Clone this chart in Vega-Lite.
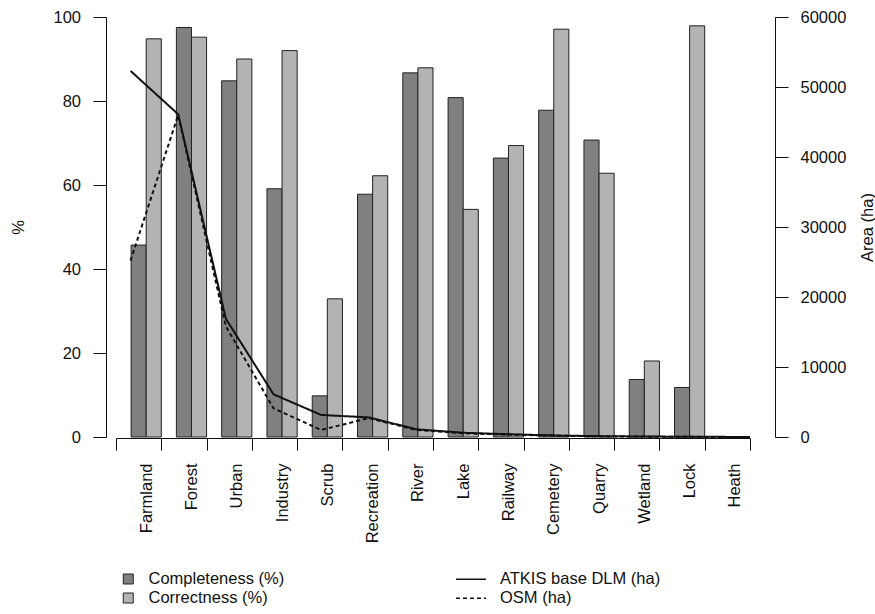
{
  "$schema": "https://vega.github.io/schema/vega-lite/v6.json",
  "width": 634,
  "height": 420,
  "autosize": {"type": "none"},
  "padding": {"left": 116, "top": 17, "right": 125, "bottom": 177},
  "background": "white",
  "config": {
    "font": "Liberation Sans",
    "view": {"stroke": null},
    "axis": {
      "labelFont": "Liberation Sans",
      "titleFont": "Liberation Sans",
      "labelFontSize": 16.5,
      "titleFontSize": 16.5,
      "titleFontWeight": "normal",
      "labelColor": "#111",
      "titleColor": "#111",
      "domainColor": "#111",
      "tickColor": "#111",
      "grid": false,
      "tickSize": 13
    },
    "legend": {
      "labelFont": "Liberation Sans",
      "labelFontSize": 16.5,
      "labelColor": "#111",
      "labelLimit": 400,
      "padding": 0
    }
  },
  "datasets": {
    "bars": [
      {"class": "Farmland", "measure": "Completeness (%)", "value": 45.7},
      {"class": "Farmland", "measure": "Correctness (%)", "value": 94.8},
      {"class": "Forest", "measure": "Completeness (%)", "value": 97.5},
      {"class": "Forest", "measure": "Correctness (%)", "value": 95.2},
      {"class": "Urban", "measure": "Completeness (%)", "value": 84.8},
      {"class": "Urban", "measure": "Correctness (%)", "value": 90.0},
      {"class": "Industry", "measure": "Completeness (%)", "value": 59.1},
      {"class": "Industry", "measure": "Correctness (%)", "value": 92.0},
      {"class": "Scrub", "measure": "Completeness (%)", "value": 9.8},
      {"class": "Scrub", "measure": "Correctness (%)", "value": 32.9},
      {"class": "Recreation", "measure": "Completeness (%)", "value": 57.8},
      {"class": "Recreation", "measure": "Correctness (%)", "value": 62.2},
      {"class": "River", "measure": "Completeness (%)", "value": 86.7},
      {"class": "River", "measure": "Correctness (%)", "value": 87.9},
      {"class": "Lake", "measure": "Completeness (%)", "value": 80.8},
      {"class": "Lake", "measure": "Correctness (%)", "value": 54.2},
      {"class": "Railway", "measure": "Completeness (%)", "value": 66.4},
      {"class": "Railway", "measure": "Correctness (%)", "value": 69.4},
      {"class": "Cemetery", "measure": "Completeness (%)", "value": 77.8},
      {"class": "Cemetery", "measure": "Correctness (%)", "value": 97.1},
      {"class": "Quarry", "measure": "Completeness (%)", "value": 70.7},
      {"class": "Quarry", "measure": "Correctness (%)", "value": 62.8},
      {"class": "Wetland", "measure": "Completeness (%)", "value": 13.7},
      {"class": "Wetland", "measure": "Correctness (%)", "value": 18.1},
      {"class": "Lock", "measure": "Completeness (%)", "value": 11.8},
      {"class": "Lock", "measure": "Correctness (%)", "value": 97.9},
      {"class": "Heath", "measure": "Completeness (%)", "value": 0},
      {"class": "Heath", "measure": "Correctness (%)", "value": 0}
    ],
    "area": [
      {"class": "Farmland", "source": "ATKIS base DLM (ha)", "area": 52300},
      {"class": "Forest", "source": "ATKIS base DLM (ha)", "area": 46100},
      {"class": "Urban", "source": "ATKIS base DLM (ha)", "area": 16900},
      {"class": "Industry", "source": "ATKIS base DLM (ha)", "area": 6100},
      {"class": "Scrub", "source": "ATKIS base DLM (ha)", "area": 3150},
      {"class": "Recreation", "source": "ATKIS base DLM (ha)", "area": 2800},
      {"class": "River", "source": "ATKIS base DLM (ha)", "area": 1100},
      {"class": "Lake", "source": "ATKIS base DLM (ha)", "area": 600},
      {"class": "Railway", "source": "ATKIS base DLM (ha)", "area": 380},
      {"class": "Cemetery", "source": "ATKIS base DLM (ha)", "area": 200},
      {"class": "Quarry", "source": "ATKIS base DLM (ha)", "area": 110},
      {"class": "Wetland", "source": "ATKIS base DLM (ha)", "area": 60},
      {"class": "Lock", "source": "ATKIS base DLM (ha)", "area": 25},
      {"class": "Heath", "source": "ATKIS base DLM (ha)", "area": 10},
      {"class": "Farmland", "source": "OSM (ha)", "area": 25200},
      {"class": "Forest", "source": "OSM (ha)", "area": 46000},
      {"class": "Urban", "source": "OSM (ha)", "area": 15800},
      {"class": "Industry", "source": "OSM (ha)", "area": 4100},
      {"class": "Scrub", "source": "OSM (ha)", "area": 1000},
      {"class": "Recreation", "source": "OSM (ha)", "area": 2700},
      {"class": "River", "source": "OSM (ha)", "area": 1000},
      {"class": "Lake", "source": "OSM (ha)", "area": 520},
      {"class": "Railway", "source": "OSM (ha)", "area": 330},
      {"class": "Cemetery", "source": "OSM (ha)", "area": 180},
      {"class": "Quarry", "source": "OSM (ha)", "area": 90},
      {"class": "Wetland", "source": "OSM (ha)", "area": 45},
      {"class": "Lock", "source": "OSM (ha)", "area": 15},
      {"class": "Heath", "source": "OSM (ha)", "area": 5}
    ]
  },
  "layer": [
    {
      "data": {"name": "bars"},
      "mark": {"type": "bar", "stroke": "#222", "strokeWidth": 1},
      "encoding": {
        "x": {
          "field": "class",
          "type": "nominal",
          "scale": {
            "domain": ["Farmland", "Forest", "Urban", "Industry", "Scrub", "Recreation", "River", "Lake", "Railway", "Cemetery", "Quarry", "Wetland", "Lock", "Heath"],
            "paddingInner": 0,
            "paddingOuter": 0
          },
          "axis": {
            "title": null,
            "labelAngle": 270,
            "tickBand": "extent",
            "tickSize": 12,
            "offset": 1,
            "labelPadding": 13,
            "labelOffset": 7.5
          }
        },
        "xOffset": {
          "field": "measure",
          "type": "nominal",
          "scale": {"domain": ["gap", "Completeness (%)", "Correctness (%)"], "paddingInner": 0, "paddingOuter": 0}
        },
        "y": {
          "field": "value",
          "type": "quantitative",
          "scale": {"domain": [0, 100], "nice": false},
          "axis": {
            "title": "%",
            "values": [0, 20, 40, 60, 80, 100],
            "offset": 10,
            "labelPadding": 12.5,
            "titleAngle": 270,
            "titleX": -88,
            "titleY": 210,
            "titleAlign": "center",
            "titleBaseline": "middle"
          }
        },
        "fill": {
          "field": "measure",
          "type": "nominal",
          "scale": {"domain": ["Completeness (%)", "Correctness (%)"], "range": ["#808080", "#b3b3b3"]},
          "legend": {
            "title": null,
            "orient": "none",
            "legendX": 4,
            "legendY": 553.75,
            "symbolType": "square",
            "symbolSize": 100,
            "symbolStrokeColor": "#222",
            "symbolStrokeWidth": 1,
            "symbolOpacity": 1,
            "labelOffset": 12,
            "rowPadding": 2
          }
        }
      }
    },
    {
      "data": {"name": "area"},
      "mark": {"type": "line", "stroke": "#111", "strokeWidth": 2},
      "encoding": {
        "x": {
          "field": "class",
          "type": "nominal",
          "scale": {
            "type": "point",
            "domain": ["Farmland", "Forest", "Urban", "Industry", "Scrub", "Recreation", "River", "Lake", "Railway", "Cemetery", "Quarry", "Wetland", "Lock", "Heath"],
            "padding": 0.1527,
            "align": 1
          },
          "axis": null
        },
        "y": {
          "field": "area",
          "type": "quantitative",
          "scale": {"domain": [0, 60000], "nice": false},
          "axis": {
            "orient": "right",
            "title": "Area (ha)",
            "values": [0, 10000, 20000, 30000, 40000, 50000, 60000],
            "format": "d",
            "offset": 25,
            "labelPadding": 12,
            "titleAngle": 270,
            "titleX": 92,
            "titleY": 210,
            "titleAlign": "center",
            "titleBaseline": "middle"
          }
        },
        "strokeDash": {
          "field": "source",
          "type": "nominal",
          "scale": {"domain": ["ATKIS base DLM (ha)", "OSM (ha)"], "range": [[1, 0], [4, 3]]},
          "legend": {
            "title": null,
            "orient": "none",
            "legendX": 346.5,
            "legendY": 553.75,
            "symbolType": "M-2,0H2",
            "symbolSize": 225,
            "symbolStrokeColor": "#111",
            "symbolStrokeWidth": 1.5,
            "labelOffset": 20.5,
            "rowPadding": 2
          }
        }
      }
    }
  ],
  "resolve": {"scale": {"x": "independent", "y": "independent"}}
}
